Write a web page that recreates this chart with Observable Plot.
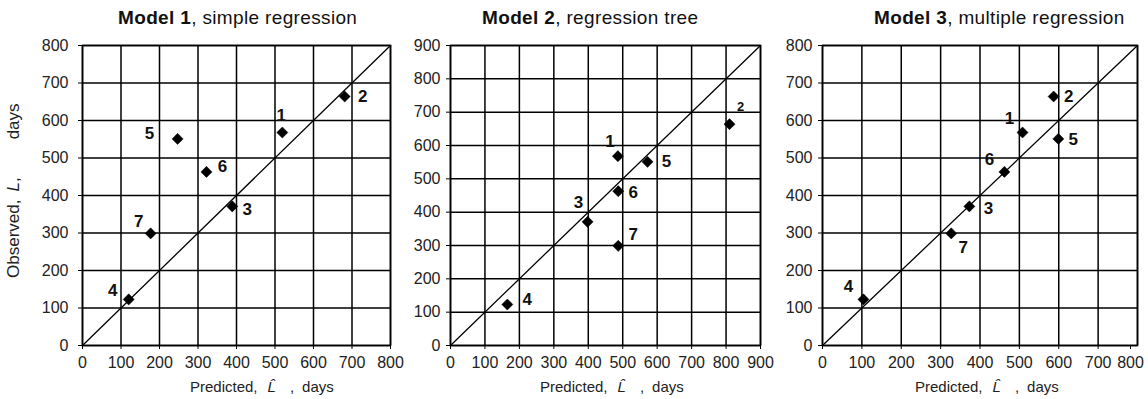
<!DOCTYPE html>
<html><head><meta charset="utf-8">
<script src="https://cdn.jsdelivr.net/npm/d3@7"></script>
<script src="https://cdn.jsdelivr.net/npm/@observablehq/plot@0.6"></script>
<style>
body{margin:0;background:#fff;}
#root{position:relative;width:1148px;height:399px;overflow:hidden;font-family:"Liberation Sans",Arial,sans-serif;color:#111;background:#fff;}
.t{position:absolute;white-space:nowrap;line-height:1;}
.panel{position:absolute;top:0;}
</style></head><body><div id="root"></div>
<script>
// ---- data ----
const ids = ["1", "2", "3", "4", "5", "6", "7"];
const observed = [568, 664, 371, 123, 551, 463, 299];
const predicted1 = [519, 681, 389, 120, 247, 322, 177];
const predicted2 = [486, 810, 398, 165, 572, 487, 487];
const predicted3 = [508, 587, 373, 104, 599, 462, 327];
const ticks800 = [0, 100, 200, 300, 400, 500, 600, 700, 800];
const ticks900 = [0, 100, 200, 300, 400, 500, 600, 700, 800, 900];
const titleBold = ["Model 1", "Model 2", "Model 3"];
const titleRest = [", simple regression", ", regression tree", ", multiple regression"];
const yLabelParts = ["Observed,", "L", ",", "days"];
const xLabelParts = ["Predicted,", "L\u0302", ",", "days"];

// ---- layout (positions / styles) ----
const panels = [
  {pred: predicted1, ticks: ticks800, left: 0, width: 400, marginLeft: 82, marginRight: 10, padY: 10, titleX: 118, xlabX: 190, lastDx: 0,
   offsets: [[-1,-17],[18,0],[15,3],[-16,-9],[-28,-5],[16,-5],[-12,-12]], small: []},
  {pred: predicted2, ticks: ticks900, left: 400, width: 370, marginLeft: 50, marginRight: 10, padY: 6, titleX: 482, xlabX: 540, lastDx: 0,
   offsets: [[-8,-15],[11,-17],[-9,-19],[20,-5],[19,0],[15,1],[15,-11]], small: [1]},
  {pred: predicted3, ticks: ticks800, left: 770, width: 378, marginLeft: 52, marginRight: 11, padY: 6, titleX: 874, xlabX: 915, lastDx: -7,
   offsets: [[-13,-14],[15,0],[19,2],[-15,-13],[15,1],[-15,-12],[12,14]], small: []}
];
const tickFont = 16;

const root = document.getElementById("root");
const idx = ids.map((_, i) => i);

panels.forEach((p, k) => {
  const max = p.ticks[p.ticks.length - 1];
  const axisOpts = {tickSize: 4, tickPadding: 7, fontSize: tickFont, fill: "#222", stroke: "#000", label: null, tickFormat: d => String(d)};
  const marks = [
    Plot.ruleX(p.ticks, {stroke: "#000", strokeWidth: 1.5}),
    Plot.ruleY(p.ticks, {stroke: "#000", strokeWidth: 1.5}),
    Plot.frame({stroke: "#000", strokeWidth: 1.6}),
    Plot.axisX(p.ticks.slice(0, -1), axisOpts),
    Plot.axisX(p.ticks.slice(-1), {...axisOpts, dx: p.lastDx}),
    Plot.axisY(p.ticks, {...axisOpts, tickPadding: p.padY}),
    Plot.line([0, max], {x: d => d, y: d => d, stroke: "#000", strokeWidth: 1.3}),
    Plot.dot(idx, {x: i => p.pred[i], y: i => observed[i], symbol: "diamond2", r: 5, fill: "#000", stroke: "#000", strokeWidth: 0.5})
  ];
  idx.forEach(i => {
    marks.push(Plot.text([i], {
      x: j => p.pred[j], y: j => observed[j], text: j => ids[j],
      dx: p.offsets[i][0], dy: p.offsets[i][1],
      fontWeight: "bold", fontSize: p.small.includes(i) ? 13 : 17, fill: "#111"
    }));
  });
  const svg = Plot.plot({
    width: p.width, height: 375,
    marginLeft: p.marginLeft, marginRight: p.marginRight, marginTop: 45, marginBottom: 30,
    x: {domain: [0, max], label: null},
    y: {domain: [0, max], label: null},
    style: {background: "transparent", overflow: "visible", fontFamily: "'Liberation Sans', Arial, sans-serif", color: "#222"},
    marks
  });
  const wrap = document.createElement("div");
  wrap.className = "panel";
  wrap.style.left = p.left + "px";
  wrap.appendChild(svg);
  root.appendChild(wrap);

  const title = document.createElement("div");
  title.className = "t";
  title.style.cssText = `left:${p.titleX}px;top:8px;font-size:19px;letter-spacing:0.35px;color:#111;`;
  const b = document.createElement("b"); b.textContent = titleBold[k];
  title.appendChild(b);
  title.appendChild(document.createTextNode(titleRest[k]));
  root.appendChild(title);

  const xl = document.createElement("div");
  xl.className = "t";
  xl.style.cssText = `left:${p.xlabX}px;top:379px;font-size:15px;color:#222;`;
  xl.innerHTML = `${xLabelParts[0]}<i style="margin-left:10px">${xLabelParts[1]}</i><span style="margin-left:14px">${xLabelParts[2]}</span><span style="margin-left:8px">${xLabelParts[3]}</span>`;
  root.appendChild(xl);
});

const yl = document.createElement("div");
yl.className = "t";
yl.style.cssText = "left:0;top:0;font-size:17px;color:#222;transform-origin:0 0;transform:translate(5px,278px) rotate(-90deg);";
yl.innerHTML = `${yLabelParts[0]}<i style="margin-left:8px">${yLabelParts[1]}</i>${yLabelParts[2]}<span style="margin-left:38px">${yLabelParts[3]}</span>`;
root.appendChild(yl);
</script></body></html>
